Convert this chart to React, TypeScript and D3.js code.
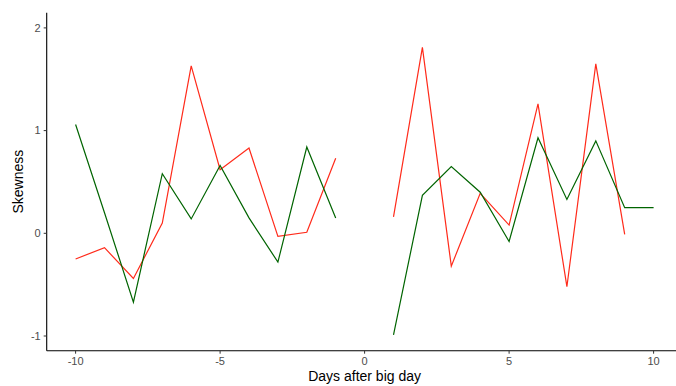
import React from "react";
import { scaleLinear, line } from "d3";

const daysBefore = [-10, -9, -8, -7, -6, -5, -4, -3, -2, -1];
const daysAfter = [1, 2, 3, 4, 5, 6, 7, 8, 9, 10];

const redBefore = [-0.25, -0.14, -0.44, 0.1, 1.63, 0.62, 0.83, -0.03, 0.01, 0.73];
const redAfter = [0.16, 1.81, -0.32, 0.39, 0.08, 1.26, -0.52, 1.65, -0.01];
const greenBefore = [1.06, 0.2, -0.67, 0.58, 0.14, 0.66, 0.15, -0.28, 0.84, 0.15];
const greenAfter = [-0.99, 0.37, 0.65, 0.4, -0.08, 0.93, 0.33, 0.9, 0.25, 0.25];

const xTicks = [-10, -5, 0, 5, 10];
const yTicks = [-1, 0, 1, 2];

export default function App() {
  const width = 676,
    height = 386,
    plotLeft = 46.7,
    plotTop = 12.7,
    plotBottom = 350.7;

  const xScale = scaleLinear().domain([-11, 11]).range([plotLeft, 682.5]);
  const yScale = scaleLinear().domain([-1.143, 2.148]).range([plotBottom, plotTop]);

  const makePath = (days: number[], vals: number[]) =>
    line<number>()
      .x((_, i) => xScale(days[i]))
      .y(d => yScale(d))(vals) || "";

  const font = "Liberation Sans, Arial, sans-serif";
  const tickStyle = { fill: "#4d4d4d", fontSize: 11, fontFamily: font };

  return (
    <svg
      width={width}
      height={height}
      style={{ position: "absolute", left: 0, top: 0, background: "white" }}
    >
      <path d={makePath(daysBefore, redBefore)} fill="none" stroke="#ff2a1a" strokeWidth={1.2} />
      <path d={makePath(daysAfter, redAfter)} fill="none" stroke="#ff2a1a" strokeWidth={1.2} />
      <path d={makePath(daysBefore, greenBefore)} fill="none" stroke="#006400" strokeWidth={1.2} />
      <path d={makePath(daysAfter, greenAfter)} fill="none" stroke="#006400" strokeWidth={1.2} />

      {/* axes */}
      <line x1={plotLeft} x2={plotLeft} y1={plotTop} y2={plotBottom} stroke="black" strokeWidth={1.1} />
      <line x1={plotLeft} x2={width} y1={plotBottom} y2={plotBottom} stroke="black" strokeWidth={1.1} />

      {yTicks.map(t => (
        <g key={t}>
          <line x1={plotLeft - 3} x2={plotLeft} y1={yScale(t)} y2={yScale(t)} stroke="#333" strokeWidth={1} />
          <text x={plotLeft - 6} y={yScale(t)} dy="0.35em" textAnchor="end" style={tickStyle}>
            {t}
          </text>
        </g>
      ))}
      {xTicks.map(t => (
        <g key={t}>
          <line x1={xScale(t)} x2={xScale(t)} y1={plotBottom} y2={plotBottom + 3} stroke="#333" strokeWidth={1} />
          <text x={xScale(t)} y={plotBottom + 14} textAnchor="middle" style={tickStyle}>
            {t}
          </text>
        </g>
      ))}

      <text
        x={xScale(0)}
        y={381}
        textAnchor="middle"
        style={{ fill: "black", fontSize: 14, fontFamily: font }}
      >
        Days after big day
      </text>
      <text
        transform={`translate(23, ${(plotTop + plotBottom) / 2}) rotate(-90)`}
        textAnchor="middle"
        style={{ fill: "black", fontSize: 14, fontFamily: font }}
      >
        Skewness
      </text>
    </svg>
  );
}
